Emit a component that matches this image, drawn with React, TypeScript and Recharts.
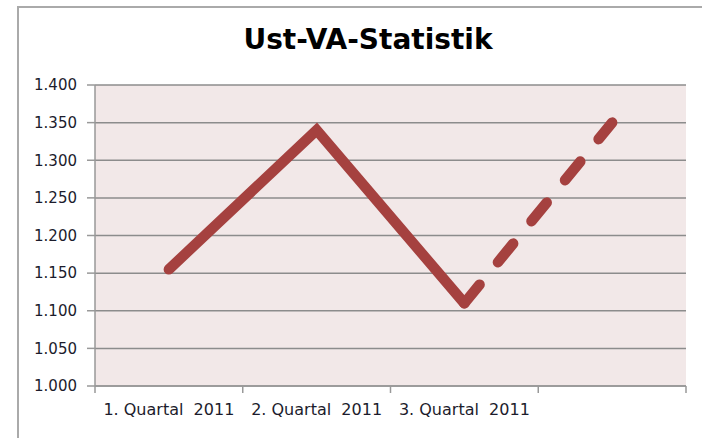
import {
  LineChart,
  Line,
  XAxis,
  YAxis,
  CartesianGrid,
} from "recharts";

const quarters = ["1. Quartal\u00a0 2011", "2. Quartal\u00a0 2011", "3. Quartal\u00a0 2011", ""];
const actual = [1155, 1340, 1110, null];
const forecast = [null, null, 1110, 1350];
const yTicks = [1000, 1050, 1100, 1150, 1200, 1250, 1300, 1350, 1400];
const boundaryTicks = [-0.5, 0.5, 1.5, 2.5, 3.5];
const centerTicks = [0, 1, 2, 3];

const data = quarters.map((q, i) => ({
  idx: i,
  quarter: q,
  actual: actual[i],
  forecast: forecast[i],
}));

const LINE = "#A5413F";
const FONT = "'DejaVu Sans', Verdana, sans-serif";

const fmt = (v: number) => v.toLocaleString("de-DE");

export default function App() {
  return (
    <div style={{ position: "absolute", left: 0, top: 0, width: 702, height: 438, background: "#fff", overflow: "hidden" }}>
      <style>{`
        .recharts-line path { stroke-linecap: round !important; stroke-linejoin: miter; }
      `}</style>
      <div
        style={{
          position: "absolute",
          left: 17,
          top: 6,
          width: 720,
          height: 460,
          borderLeft: "2px solid #aaa",
          borderTop: "2px solid #aaa",
        }}
      />
      <div
        style={{
          position: "absolute",
          left: 0,
          width: 736,
          top: 23,
          textAlign: "center",
          fontFamily: FONT,
          fontWeight: "bold",
          fontSize: 28,
          color: "#000",
        }}
      >
        Ust-VA-Statistik
      </div>
      <div style={{ position: "absolute", left: 0, top: 0 }}>
        <LineChart
          width={702}
          height={438}
          data={data}
          margin={{ top: 85, right: 16, bottom: 14, left: 0 }}
        >
          <CartesianGrid
            vertical={false}
            stroke="#8c8c8c"
            strokeWidth={1.5}
            fill="#F2E8E8"
            fillOpacity={1}
          />
          <XAxis
            xAxisId="a"
            dataKey="idx"
            type="number"
            domain={[-0.5, 3.5]}
            ticks={boundaryTicks}
            tickFormatter={() => ""}
            stroke="#999"
            strokeWidth={1.5}
            tickSize={7}
            height={8}
          />
          <XAxis
            xAxisId="b"
            dataKey="idx"
            type="number"
            domain={[-0.5, 3.5]}
            ticks={centerTicks}
            tickFormatter={(v: number) => quarters[v]}
            axisLine={false}
            tickLine={false}
            tick={{ fill: "#1c1c2c", fontSize: 16, fontFamily: FONT }}
            tickMargin={4}
            height={30}
          />
          <YAxis
            domain={[1000, 1400]}
            ticks={yTicks}
            tickFormatter={fmt}
            width={95}
            stroke="#999"
            strokeWidth={1.5}
            tickSize={8}
            tickMargin={10}
            tick={{ fill: "#1c1c2c", fontSize: 15, fontFamily: FONT }}
            interval={0}
          />
          <Line
            xAxisId="b"
            dataKey="actual"
            stroke={LINE}
            strokeWidth={10.5}
            strokeLinecap="round"
            dot={false}
            activeDot={false}
            isAnimationActive={false}
            type="linear"
          />
          <Line
            xAxisId="b"
            dataKey="forecast"
            stroke={LINE}
            strokeWidth={10.5}
            strokeLinecap="round"
            strokeDasharray="24 29"
            dot={false}
            activeDot={false}
            isAnimationActive={false}
            type="linear"
          />
        </LineChart>
      </div>
    </div>
  );
}
